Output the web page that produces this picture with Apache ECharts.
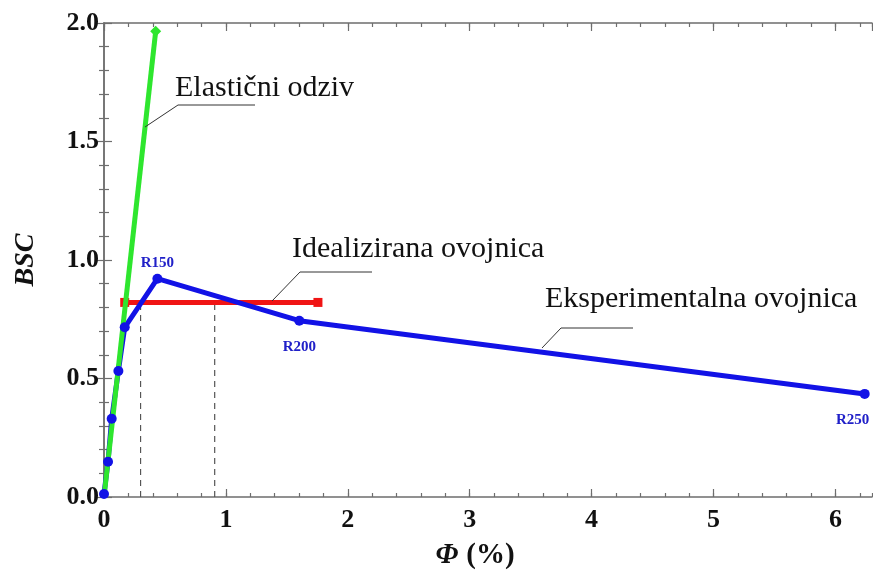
<!DOCTYPE html>
<html>
<head>
<meta charset="utf-8">
<script src="https://cdn.jsdelivr.net/npm/echarts@6/dist/echarts.min.js"></script>
<style>
html,body{margin:0;padding:0;background:#fff;}
#chart{width:873px;height:577px;}
</style>
</head>
<body>
<div id="chart"></div>
<script>
// Experimental envelope (blue)
const expPhi = [0.0, 0.033, 0.063, 0.118, 0.170, 0.438, 1.602, 6.24];
const expBSC = [0.013, 0.149, 0.330, 0.532, 0.716, 0.921, 0.744, 0.435];
const expLabels = ['', '', '', '', '', 'R150', 'R200', 'R250'];
// Elastic response (green)
const elPhi = [0.0, 0.424];
const elBSC = [0.0, 1.965];
// Idealized envelope (red)
const idPhi = [0.17, 1.755];
const idBSC = [0.821, 0.821];
// Dashed verticals
const dashPhi = [0.30, 0.908];
const dashTop = 0.821;
// Axis ticks
const yTicks = [0.0, 0.5, 1.0, 1.5, 2.0];
const xTicks = [0, 1, 2, 3, 4, 5, 6];
// Texts
const annElastic = 'Elastični odziv';
const annIdeal = 'Idealizirana ovojnica';
const annExp = 'Eksperimentalna ovojnica';
const xName = ['Φ', '(%)'];
const yName = 'BSC';

const FONT = '"Liberation Serif", "Times New Roman", serif';
const AX = '#6e6e6e';
const BLUE = '#1212e6';
const GREEN = '#2ee62e';
const RED = '#f01414';

const chart = echarts.init(document.getElementById('chart'));

function xAx(pos, interval, len, showLabel, showLine) {
  return {
    type: 'value', position: pos, min: 0, max: 6.3, interval: interval,
    axisLine: {show: showLine, lineStyle: {color: AX, width: 1.5}},
    axisTick: {show: true, inside: true, length: len, lineStyle: {color: AX, width: 1.2}},
    axisLabel: {show: showLabel, showMaxLabel: false, margin: 10,
      fontFamily: FONT, fontSize: 26, fontWeight: 'bold', color: '#111',
      formatter: v => xTicks.includes(v) ? String(v) : ''},
    splitLine: {show: false}
  };
}
function yAx(pos, showLabel) {
  return {
    type: 'value', position: pos, min: 0, max: 2, interval: 0.5,
    axisLine: {show: true, lineStyle: {color: AX, width: 1.5}},
    axisTick: {show: true, inside: true, length: 8, lineStyle: {color: AX, width: 1.2}},
    minorTick: {show: true, splitNumber: 5, length: 5, lineStyle: {color: AX, width: 1.2}},
    axisLabel: {show: showLabel, margin: 5, fontFamily: FONT, fontSize: 26, fontWeight: 'bold', color: '#111',
      formatter: v => yTicks.includes(v) ? v.toFixed(1) : ''},
    splitLine: {show: false}
  };
}

const ya0 = yAx('left', true);
ya0.name = yName;
ya0.nameLocation = 'middle';
ya0.nameGap = 64;
ya0.nameTextStyle = {fontFamily: FONT, fontSize: 28, fontStyle: 'italic', fontWeight: 'bold', color: '#111'};

const dashSeries = dashPhi.map(x => ({
  type: 'line', xAxisIndex: 0, yAxisIndex: 0, symbol: 'none', silent: true, z: 1,
  data: [[x, 0], [x, dashTop]],
  lineStyle: {color: '#555', width: 1.2, type: [6, 5]}
}));

const option = {
  animation: false,
  backgroundColor: '#fff',
  grid: {left: 104, right: 1, top: 23, bottom: 80},
  xAxis: [
    xAx('bottom', 1, 8, true, true),
    xAx('bottom', 0.2, 4, false, false),
    xAx('top', 1, 8, false, true),
    xAx('top', 0.2, 4, false, false)
  ],
  yAxis: [ya0, yAx('right', false)],
  series: [
    ...dashSeries,
    {
      type: 'line', xAxisIndex: 0, yAxisIndex: 0, z: 2,
      data: idPhi.map((x, i) => [x, idBSC[i]]),
      symbol: 'rect', symbolSize: 9,
      lineStyle: {color: RED, width: 5},
      itemStyle: {color: RED}
    },
    {
      type: 'line', xAxisIndex: 0, yAxisIndex: 0, z: 3,
      data: expPhi.map((x, i) => [x, expBSC[i]]),
      symbol: 'none',
      lineStyle: {color: BLUE, width: 5}
    },
    {
      type: 'line', xAxisIndex: 0, yAxisIndex: 0, z: 4,
      data: elPhi.map((x, i) => ({value: [x, elBSC[i]], symbol: i === elPhi.length - 1 ? 'diamond' : 'none'})),
      symbolSize: 11,
      lineStyle: {color: GREEN, width: 5},
      itemStyle: {color: GREEN}
    },
    {
      type: 'scatter', xAxisIndex: 0, yAxisIndex: 0, z: 5,
      data: expPhi.map((x, i) => ({
        value: [x, expBSC[i]],
        label: {
          show: expLabels[i] !== '',
          formatter: expLabels[i],
          position: i === 5 ? 'top' : 'bottom',
          offset: i === 7 ? [-12, 0] : [0, 0],
          distance: i === 5 ? 3 : 14
        }
      })),
      symbol: 'circle', symbolSize: 10,
      itemStyle: {color: BLUE, opacity: 1},
      label: {fontFamily: FONT, fontSize: 15, fontWeight: 'bold', color: '#2020c8', opacity: 1}
    }
  ],
  graphic: [
    {type: 'polyline', shape: {points: [[145, 127], [178, 105], [255, 105]]}, style: {stroke: '#333', lineWidth: 1, fill: null}, z: 10},
    {type: 'polyline', shape: {points: [[272, 301], [300, 272], [372, 272]]}, style: {stroke: '#333', lineWidth: 1, fill: null}, z: 10},
    {type: 'polyline', shape: {points: [[542, 348], [561, 328], [633, 328]]}, style: {stroke: '#333', lineWidth: 1, fill: null}, z: 10},
    {type: 'text', left: 175, top: 73, style: {text: annElastic, font: '30px ' + FONT, fill: '#111'}, z: 10},
    {type: 'text', left: 292, top: 234, style: {text: annIdeal, font: '30px ' + FONT, fill: '#111'}, z: 10},
    {type: 'text', left: 545, top: 284, style: {text: annExp, font: '30px ' + FONT, fill: '#111'}, z: 10},
    {type: 'text', x: 475, y: 556, z: 10, style: {
      text: '{i|' + xName[0] + '}{b|' + xName[1] + '}', align: 'center', verticalAlign: 'middle',
      rich: {
        i: {fontFamily: FONT, fontSize: 29, fontStyle: 'italic', fontWeight: 'bold', fill: '#111', padding: [0, 8, 0, 0]},
        b: {fontFamily: FONT, fontSize: 29, fontWeight: 'bold', fill: '#111'}
      }
    }}
  ]
};
chart.setOption(option);
</script>
</body>
</html>
